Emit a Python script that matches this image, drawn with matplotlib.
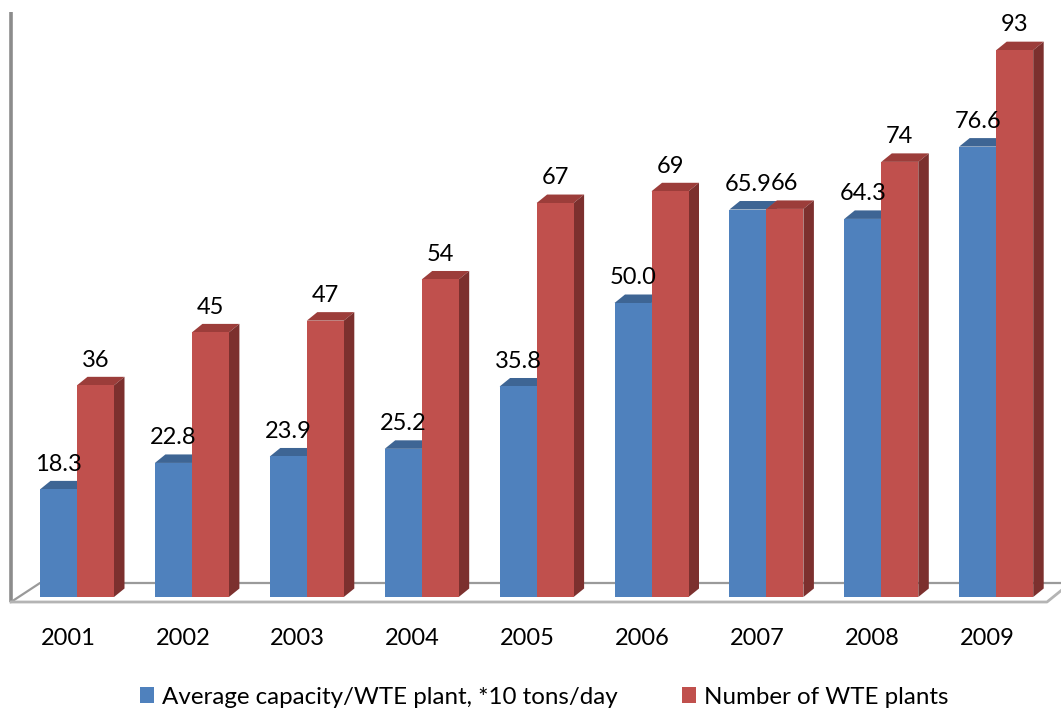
import matplotlib
matplotlib.use("Agg")
import matplotlib.pyplot as plt
from matplotlib.patches import Polygon, Patch
from matplotlib.transforms import ScaledTranslation

# ---- data ----
years = ["2001", "2002", "2003", "2004", "2005", "2006", "2007", "2008", "2009"]
avg_capacity = [18.3, 22.8, 23.9, 25.2, 35.8, 50.0, 65.9, 64.3, 76.6]   # *10 tons/day
plant_count = [36, 45, 47, 54, 67, 69, 66, 74, 93]
series_names = ["Average capacity/WTE plant, *10 tons/day", "Number of WTE plants"]

plt.rcParams["font.family"] = ["Lato", "DejaVu Sans"]
FS = 17
FS_LEGEND = 17.4

BLUE = {"front": "#4F81BD", "top": "#3E6594", "side": "#385D8A"}
RED = {"front": "#C0504D", "top": "#9C3D3A", "side": "#7C302E"}

W_PX, H_PX = 1061, 712
fig = plt.figure(figsize=(W_PX / 100, H_PX / 100), dpi=100)

# plot area: value 0 sits at 597 px from top, 5.88 px per unit
base_px, unit_px, group_px, first_px = 597, 5.88, 114.9, 77
ax = fig.add_axes([0, (H_PX - base_px) / H_PX, 1, 100 * unit_px / H_PX])
ax.set_ylim(0, 100)
ax.set_xlim(-first_px / group_px, (W_PX - first_px) / group_px)
for s in ax.spines.values():
    s.set_visible(False)
ax.set_yticks([])

bar_w = 37 / group_px          # width of one column (data units)
DX = 10.5 / group_px           # depth offset, horizontal
DY = 8.5 / unit_px             # depth offset, vertical

# ---- floor and back wall ----
floor_front = -5 / unit_px
floor_back = 14 / unit_px
x_left = -66 / group_px
x_right = (1047 - first_px) / group_px
ax.plot([x_left, x_left], [floor_front, 99.5], color="#8C8C8C", lw=2.6,
        solid_capstyle="butt", clip_on=False, zorder=1)
ax.plot([x_left, x_left + 29 / group_px, ax.get_xlim()[1]],
        [floor_front, floor_back, floor_back], color="#9A9A9A", lw=1.6,
        clip_on=False, zorder=1)
ax.plot([x_left, x_right, x_right + 16 / group_px],
        [floor_front, floor_front, floor_front + 13 / unit_px],
        color="#B4B4B4", lw=2.0, clip_on=False, zorder=1)

x = list(range(len(years)))


def draw_columns(positions, values, colors, z, fmt):
    bars = ax.bar(positions, values, width=bar_w, align="edge",
                  color=colors["front"], edgecolor="none", zorder=z + 0.2)
    for rect, v in zip(bars, values):
        x0, w, h = rect.get_x(), rect.get_width(), rect.get_height()
        top = Polygon([(x0, h), (x0 + w, h), (x0 + w + DX, h + DY), (x0 + DX, h + DY)],
                      closed=True, facecolor=colors["top"], edgecolor="none", zorder=z)
        side = Polygon([(x0 + w, 0), (x0 + w, h), (x0 + w + DX, h + DY), (x0 + w + DX, DY)],
                       closed=True, facecolor=colors["side"], edgecolor="none", zorder=z)
        ax.add_patch(top)
        ax.add_patch(side)
        ax.annotate(fmt.format(v), xy=(x0 + w / 2, h), xytext=(0, 13.5),
                    textcoords="offset points", ha="center", va="baseline",
                    fontsize=FS, color="black", zorder=10)
    return bars


draw_columns([i - bar_w for i in x], avg_capacity, BLUE, 2, "{:.1f}")
draw_columns(x, plant_count, RED, 3, "{:.0f}")

# ---- category axis ----
ax.set_xticks(x)
ax.set_xticklabels(years, fontsize=FS)
ax.tick_params(axis="x", length=0, pad=22.5)
shift = ScaledTranslation(-9 / 100, 0, fig.dpi_scale_trans)
for lab in ax.get_xticklabels():
    lab.set_transform(lab.get_transform() + shift)

# ---- legend ----
handles = [Patch(facecolor=BLUE["front"], edgecolor="none"),
           Patch(facecolor=RED["front"], edgecolor="none")]
fig.legend(handles, series_names, loc="center", bbox_to_anchor=(0.513, 0.021),
           ncol=2, frameon=False, fontsize=FS_LEGEND, handlelength=0.6, handleheight=0.6,
           handletextpad=0.33, columnspacing=2.65, borderaxespad=0, borderpad=0)

fig.savefig("out.png", dpi=100)
